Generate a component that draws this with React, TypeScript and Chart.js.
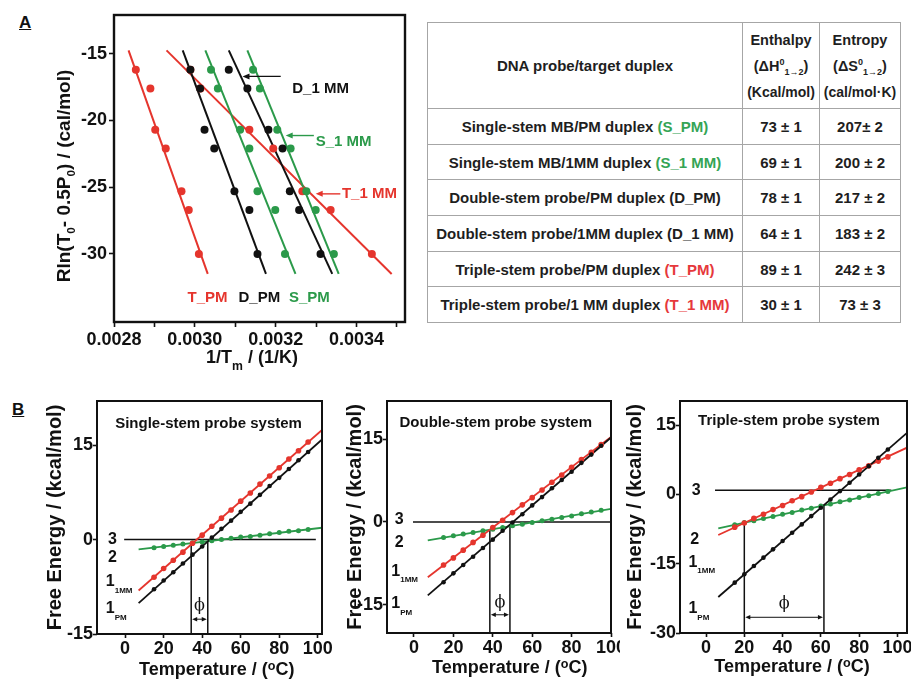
import React, { useEffect, useRef } from 'react';
import { Chart, registerables } from 'chart.js';
Chart.register(...registerables);

const RED = '#e5352d';
const GREEN = '#2b9a4a';
const BLACK = '#111111';
const FONT = '"Liberation Sans", Arial, Helvetica, sans-serif';

// ---------- Panel A data ----------
const rlnY = [-16.2, -17.6, -20.7, -22.1, -25.3, -26.7, -30.0];
const tpmX = [0.002854, 0.00289, 0.002902, 0.002928, 0.002967, 0.002985, 0.00301];
const t1mmX = [0.002989, 0.003014, 0.003135, 0.003194, 0.003266, 0.003336, 0.003438];
const dpmX = [0.002989, 0.003013, 0.003024, 0.003048, 0.003098, 0.003135, 0.003155];
const spmX = [0.00304, 0.003057, 0.003112, 0.003135, 0.003155, 0.003199, 0.003223];
const d1mmX = [0.003084, 0.00313, 0.003182, 0.003217, 0.003235, 0.003258, 0.003311];
const s1mmX = [0.003144, 0.003161, 0.003204, 0.003237, 0.003276, 0.003299, 0.003344];
const fitYA = [-14.75, -31.5];
const tpmFitX = [0.002836, 0.003032];
const t1mmFitX = [0.00293, 0.003487];
const dpmFitX = [0.00297, 0.003176];
const spmFitX = [0.003026, 0.003249];
const d1mmFitX = [0.003084, 0.00334];
const s1mmFitX = [0.00313, 0.003356];
const xTicksA = [0.0028, 0.0029, 0.003, 0.0031, 0.0032, 0.0033, 0.0034, 0.0035];
const xLabelsA = [0.0028, 0.003, 0.0032, 0.0034];
const yTicksA = [-30, -25, -20, -15];

// ---------- Table data ----------
const duplexNames = ['Single-stem MB/PM duplex', 'Single-stem MB/1MM duplex', 'Double-stem probe/PM duplex', 'Double-stem probe/1MM duplex', 'Triple-stem probe/PM duplex', 'Triple-stem probe/1 MM duplex'];
const duplexCodes = ['(S_PM)', '(S_1 MM)', '(D_PM)', '(D_1 MM)', '(T_PM)', '(T_1 MM)'];
const enthalpyVals = ['73 ± 1', '69 ± 1', '78 ± 1', '64 ± 1', '89 ± 1', '30 ± 1'];
const entropyVals = ['207± 2', '200 ± 2', '217 ± 2', '183 ± 2', '242 ± 3', '73 ± 3'];

// ---------- Panel B data ----------
const tempB = [15, 20, 25, 30, 35, 40, 45, 50, 55, 60, 65, 70, 75, 80, 85, 90, 95];
const singlePM = [-7.9, -6.5, -5.2, -3.8, -2.4, -1.1, 0.3, 1.7, 3.0, 4.4, 5.7, 7.1, 8.5, 9.8, 11.2, 12.6, 13.9];
const single1MM = [-6.0, -4.6, -3.3, -2.0, -0.6, 0.7, 2.1, 3.4, 4.7, 6.1, 7.4, 8.8, 10.1, 11.4, 12.8, 14.1, 15.5];
const singleS2 = [-1.3, -1.1, -0.9, -0.7, -0.5, -0.4, -0.2, 0.0, 0.2, 0.4, 0.5, 0.7, 0.9, 1.1, 1.3, 1.4, 1.6];
const doublePM = [-10.9, -9.3, -7.8, -6.3, -4.7, -3.2, -1.6, -0.1, 1.4, 3.0, 4.5, 6.1, 7.6, 9.1, 10.7, 12.2, 13.8];
const double1MM = [-7.8, -6.5, -5.1, -3.7, -2.4, -1.0, 0.3, 1.7, 3.1, 4.4, 5.8, 7.2, 8.5, 9.9, 11.3, 12.6, 14.0];
const doubleS2 = [-2.8, -2.5, -2.2, -1.9, -1.6, -1.3, -1.0, -0.7, -0.4, -0.1, 0.2, 0.5, 0.8, 1.1, 1.5, 1.8, 2.1];
const triplePM = [-19.1, -17.3, -15.5, -13.7, -11.9, -10.1, -8.3, -6.5, -4.7, -2.9, -1.1, 0.7, 2.5, 4.3, 6.1, 7.9, 9.7];
const triple1MM = [-7.1, -6.2, -5.2, -4.3, -3.3, -2.4, -1.4, -0.5, 0.5, 1.5, 2.4, 3.4, 4.3, 5.3, 6.2, 7.2, 8.1];
const tripleS2 = [-6.6, -6.1, -5.7, -5.2, -4.8, -4.3, -3.9, -3.4, -3.0, -2.5, -2.1, -1.6, -1.2, -0.7, -0.3, 0.2, 0.6];

const singleFitT = [7, 103];
const singlePMFit = [-10.1, 16.1];
const single1MMFit = [-8.1, 17.6];
const singleS2Fit = [-1.55, 1.9];
const doubleFitT = [7, 100];
const doublePMFit = [-13.3, 15.3];
const double1MMFit = [-10.0, 15.4];
const doubleS2Fit = [-3.33, 2.38];
const tripleFitT = [6.4, 105];
const triplePMFit = [-22.2, 13.3];
const triple1MMFit = [-8.8, 10.1];
const tripleS2Fit = [-7.35, 1.5];

const singleState3 = { t: [-0.5, 99], g: 0 };
const doubleState3 = { t: [-0.5, 100], g: 0 };
const tripleState3 = { t: [4.7, 96.8], g: 0.9 };
const singleCrossT = [34.3, 42.9];
const singleCrossG = [-0.6, -0.3];
const doubleCrossT = [38.5, 48.7];
const doubleCrossG = [-1.4, -0.8];
const tripleCrossT = [20, 61.6];
const tripleCrossG = [-6.1, -2.4];

const xTicksB = [0, 20, 40, 60, 80, 100];
const yTicksSingle = [-15, 0, 15];
const yTicksDouble = [-15, 0, 15];
const yTicksTriple = [-30, -15, 0, 15];

// ---------- helpers ----------
type Seg = { t: string; k?: number; dy?: number; fam?: string; bold?: boolean };
const fontStr = (size: number, fam = FONT, bold = true) => `${bold ? 'bold ' : ''}${size}px ${fam}`;

function drawRich(ctx: CanvasRenderingContext2D, segs: Seg[], x: number, y: number, size: number, color: string, align: 'left' | 'center' = 'left', rot = 0) {
  ctx.save();
  ctx.translate(x, y);
  if (rot) ctx.rotate(rot);
  let w = 0;
  for (const g of segs) {
    ctx.font = fontStr(size * (g.k ?? 1), g.fam, g.bold ?? true);
    w += ctx.measureText(g.t).width;
  }
  let cx = align === 'center' ? -w / 2 : 0;
  ctx.fillStyle = color;
  ctx.textBaseline = 'middle';
  ctx.textAlign = 'left';
  for (const g of segs) {
    ctx.font = fontStr(size * (g.k ?? 1), g.fam, g.bold ?? true);
    ctx.fillText(g.t, cx, (g.dy ?? 0) * size);
    cx += ctx.measureText(g.t).width;
  }
  ctx.restore();
}

function arrowHead(ctx: CanvasRenderingContext2D, x: number, y: number, dir: number, len: number, hw: number) {
  ctx.beginPath();
  ctx.moveTo(x, y);
  ctx.lineTo(x - dir * len, y - hw);
  ctx.lineTo(x - dir * len, y + hw);
  ctx.closePath();
  ctx.fill();
}

const pts = (xs: number[], ys: number[], color: string, r: number) => ({
  data: xs.map((x, i) => ({ x, y: ys[i] })),
  showLine: false,
  pointRadius: r,
  pointHoverRadius: r,
  pointBackgroundColor: color,
  pointBorderColor: color,
  pointBorderWidth: 0,
});
const seg = (xs: number[], ys: number[], color: string, w: number) => ({
  data: xs.map((x, i) => ({ x, y: ys[i] })),
  showLine: true,
  pointRadius: 0,
  pointHoverRadius: 0,
  borderColor: color,
  borderWidth: w,
  fill: false,
  tension: 0,
});

const tickFont = (size: number) => ({ family: FONT, size, weight: 'bold' as const });
const gridOpts = (len: number) => ({
  display: true,
  drawOnChartArea: false,
  drawTicks: true,
  tickLength: len,
  tickWidth: 1.6,
  tickColor: BLACK,
});

// ---------- Panel A config ----------
function configA(): any {
  const annot = [
    { text: 'D_1 MM', color: BLACK, x: 0.003241, y: -17.6 },
    { text: 'S_1 MM', color: GREEN, x: 0.003299, y: -21.6 },
    { text: 'T_1 MM', color: RED, x: 0.003364, y: -25.5 },
    { text: 'T_PM', color: RED, x: 0.002982, y: -33.26 },
    { text: 'D_PM', color: BLACK, x: 0.003108, y: -33.26 },
    { text: 'S_PM', color: GREEN, x: 0.003233, y: -33.26 },
  ];
  const arrows = [
    { x1: 0.0032125, x2: 0.003118, y: -16.7, color: BLACK },
    { x1: 0.0032945, x2: 0.0032248, y: -21.13, color: GREEN },
    { x1: 0.00336, x2: 0.003299, y: -25.5, color: RED },
  ];
  const decor = {
    id: 'decorA',
    afterDraw(chart: any) {
      const ctx: CanvasRenderingContext2D = chart.ctx;
      const xs = chart.scales.x, ys = chart.scales.y, a = chart.chartArea;
      ctx.save();
      ctx.strokeStyle = BLACK;
      ctx.lineWidth = 2.4;
      ctx.strokeRect(a.left, a.top, a.right - a.left, a.bottom - a.top);
      for (const ar of arrows) {
        const x1 = xs.getPixelForValue(ar.x1), x2 = xs.getPixelForValue(ar.x2), y = ys.getPixelForValue(ar.y);
        ctx.strokeStyle = ar.color; ctx.fillStyle = ar.color; ctx.lineWidth = 1.4;
        ctx.beginPath(); ctx.moveTo(x1, y); ctx.lineTo(x2 + 5, y); ctx.stroke();
        arrowHead(ctx, x2, y, -1, 7, 3);
      }
      for (const an of annot) {
        drawRich(ctx, [{ t: an.text }], xs.getPixelForValue(an.x), ys.getPixelForValue(an.y), 15, an.color, 'left');
      }
      drawRich(ctx, [{ t: '1/T' }, { t: 'm', k: 0.68, dy: 0.5 }, { t: ' / (1/K)' }], 222, 358, 18, BLACK, 'center');
      drawRich(ctx, [{ t: 'Rln(T' }, { t: '0', k: 0.62, dy: 0.38 }, { t: '- 0.5P' }, { t: '0', k: 0.62, dy: 0.38 }, { t: ') / (cal/mol)' }], 35, 176, 19, BLACK, 'center', -Math.PI / 2);
      ctx.restore();
    },
  };
  return {
    type: 'scatter',
    data: {
      datasets: [
        pts(dpmX, rlnY, BLACK, 4),
        pts(d1mmX, rlnY, BLACK, 4),
        pts(spmX, rlnY, GREEN, 4),
        pts(s1mmX, rlnY, GREEN, 4),
        pts(tpmX, rlnY, RED, 4),
        pts(t1mmX, rlnY, RED, 4),
        seg(dpmFitX, fitYA, BLACK, 2),
        seg(d1mmFitX, fitYA, BLACK, 2),
        seg(spmFitX, fitYA, GREEN, 2),
        seg(s1mmFitX, fitYA, GREEN, 2),
        seg(tpmFitX, fitYA, RED, 2),
        seg(t1mmFitX, fitYA, RED, 2),
      ],
    },
    options: {
      animation: false,
      responsive: false,
      devicePixelRatio: 1,
      layout: { padding: { top: 15, right: 15, left: 0, bottom: 0 } },
      plugins: { legend: { display: false }, tooltip: { enabled: false } },
      events: [],
      scales: {
        x: {
          type: 'linear',
          min: 0.0028,
          max: 0.00352,
          afterBuildTicks: (s: any) => { s.ticks = xTicksA.map((v) => ({ value: v })); },
          afterFit: (s: any) => { s.height = 58; s.paddingLeft = 0; s.paddingRight = 0; },
          ticks: {
            autoSkip: false,
            maxRotation: 0,
            minRotation: 0,
            padding: 2,
            color: BLACK,
            font: tickFont(18),
            callback: (v: number) => (xLabelsA.some((l) => Math.abs(l - v) < 1e-9) ? v.toFixed(4) : ''),
          },
          grid: gridOpts(5),
          border: { display: false },
        },
        y: {
          type: 'linear',
          min: -35.1,
          max: -12.1,
          afterBuildTicks: (s: any) => { s.ticks = yTicksA.map((v) => ({ value: v })); },
          afterFit: (s: any) => { s.width = 84; s.paddingTop = 0; s.paddingBottom = 0; },
          ticks: { autoSkip: false, padding: 2, color: BLACK, font: tickFont(18) },
          grid: gridOpts(5),
          border: { display: false },
        },
      },
    },
    plugins: [decor],
  };
}

// ---------- Panel B config ----------
type Lbl = { t: number; g: number; main: string; sub?: string };
interface BSpec {
  title: string; titleT: number; titleDy: number;
  xMin: number; xMax: number; yMin: number; yMax: number; yTicks: number[];
  pm: number[]; mm: number[]; s2: number[];
  fitT: number[]; pmFit: number[]; mmFit: number[]; s2Fit: number[];
  state3: { t: number[]; g: number };
  crossT: number[]; crossG: number[];
  phiG: number; phiTextG: number;
  labels: Lbl[];
  yAxisW: number; xAxisH: number; padTop: number; padRight: number;
  yTitleX: number; xTitleX: number; xTitleY: number;
  left: number; top: number; w: number; h: number;
}

const specsB: BSpec[] = [
  {
    title: 'Single-stem probe system', titleT: 43.3, titleDy: 23,
    xMin: -14.6, xMax: 102.2, yMin: -15, yMax: 22, yTicks: yTicksSingle,
    pm: singlePM, mm: single1MM, s2: singleS2,
    fitT: singleFitT, pmFit: singlePMFit, mmFit: single1MMFit, s2Fit: singleS2Fit,
    state3: singleState3, crossT: singleCrossT, crossG: singleCrossG,
    phiG: -12.65, phiTextG: -10.6,
    labels: [
      { t: -8.9, g: 0, main: '3' }, { t: -8.9, g: -2.8, main: '2' },
      { t: -10, g: -6.7, main: '1', sub: '1MM' }, { t: -10, g: -11, main: '1', sub: 'PM' },
    ],
    yAxisW: 67, xAxisH: 45, padTop: 11, padRight: 12,
    yTitleX: 25, xTitleX: 186.7, xTitleY: 280,
    left: 30, top: 390, w: 304, h: 289,
  },
  {
    title: 'Double-stem probe system', titleT: 41.5, titleDy: 22,
    xMin: -13.7, xMax: 100, yMin: -20.1, yMax: 21.9, yTicks: yTicksDouble,
    pm: doublePM, mm: double1MM, s2: doubleS2,
    fitT: doubleFitT, pmFit: doublePMFit, mmFit: double1MMFit, s2Fit: doubleS2Fit,
    state3: doubleState3, crossT: doubleCrossT, crossG: doubleCrossG,
    phiG: -16.8, phiTextG: -14.6,
    labels: [
      { t: -9.8, g: 0.5, main: '3' }, { t: -9.8, g: -3.8, main: '2' },
      { t: -11.5, g: -8.9, main: '1', sub: '1MM' }, { t: -11.5, g: -14.8, main: '1', sub: 'PM' },
    ],
    yAxisW: 53, xAxisH: 46, padTop: 11, padRight: 9,
    yTitleX: 21, xTitleX: 175.7, xTitleY: 278.3,
    left: 334, top: 390, w: 286, h: 289,
  },
  {
    title: 'Triple-stem probe system', titleT: 43.3, titleDy: 20,
    xMin: -13.6, xMax: 105, yMin: -30, yMax: 20.2, yTicks: yTicksTriple,
    pm: triplePM, mm: triple1MM, s2: tripleS2,
    fitT: tripleFitT, pmFit: triplePMFit, mmFit: triple1MMFit, s2Fit: tripleS2Fit,
    state3: tripleState3, crossT: tripleCrossT, crossG: tripleCrossG,
    phiG: -26.6, phiTextG: -23.7,
    labels: [
      { t: -7.5, g: 0.8, main: '3' }, { t: -8.3, g: -9.7, main: '2' },
      { t: -9.2, g: -14.7, main: '1', sub: '1MM' }, { t: -9.2, g: -24.8, main: '1', sub: 'PM' },
    ],
    yAxisW: 60, xAxisH: 46, padTop: 11, padRight: 4,
    yTitleX: 15, xTitleX: 172, xTitleY: 276.7,
    left: 620, top: 390, w: 291, h: 289,
  },
];

function configB(s: BSpec): any {
  const decor = {
    id: 'decorB',
    afterDraw(chart: any) {
      const ctx: CanvasRenderingContext2D = chart.ctx;
      const xs = chart.scales.x, ys = chart.scales.y, a = chart.chartArea;
      ctx.save();
      ctx.strokeStyle = BLACK;
      ctx.lineWidth = 2;
      ctx.strokeRect(a.left, a.top, a.right - a.left, a.bottom - a.top);
      drawRich(ctx, [{ t: s.title }], xs.getPixelForValue(s.titleT), a.top + s.titleDy, 15, BLACK, 'center');
      for (const l of s.labels) {
        const segs: Seg[] = [{ t: l.main }];
        if (l.sub) segs.push({ t: l.sub, k: 0.5, dy: 0.55 });
        drawRich(ctx, segs, xs.getPixelForValue(l.t), ys.getPixelForValue(l.g), 16, BLACK, 'left');
      }
      const x1 = xs.getPixelForValue(s.crossT[0]), x2 = xs.getPixelForValue(s.crossT[1]);
      const py = ys.getPixelForValue(s.phiG);
      ctx.strokeStyle = BLACK; ctx.fillStyle = BLACK; ctx.lineWidth = 1;
      ctx.beginPath(); ctx.moveTo(x1 + 4, py); ctx.lineTo(x2 - 4, py); ctx.stroke();
      arrowHead(ctx, x1 + 1, py, -1, 5, 2.2);
      arrowHead(ctx, x2 - 1, py, 1, 5, 2.2);
      drawRich(ctx, [{ t: 'ϕ', fam: '"DejaVu Serif", "Liberation Serif", serif', bold: false }], (x1 + x2) / 2, ys.getPixelForValue(s.phiTextG), 16, BLACK, 'center');
      drawRich(ctx, [{ t: 'Temperature / (' }, { t: 'o', k: 0.7, dy: -0.2 }, { t: 'C)' }], s.xTitleX, s.xTitleY, 18, BLACK, 'center');
      drawRich(ctx, [{ t: 'Free Energy / (kcal/mol)' }], s.yTitleX, (a.top + a.bottom) / 2, 20, BLACK, 'center', -Math.PI / 2);
      ctx.restore();
    },
  };
  return {
    type: 'scatter',
    data: {
      datasets: [
        pts(tempB, s.pm, BLACK, 2.3),
        pts(tempB, s.mm, RED, 2.8),
        pts(tempB, s.s2, GREEN, 2.5),
        seg(s.fitT, s.pmFit, BLACK, 1.8),
        seg(s.fitT, s.mmFit, RED, 1.8),
        seg(s.fitT, s.s2Fit, GREEN, 1.8),
        seg(s.state3.t, [s.state3.g, s.state3.g], BLACK, 1.5),
        seg([s.crossT[0], s.crossT[0]], [s.yMin, s.crossG[0]], BLACK, 1.5),
        seg([s.crossT[1], s.crossT[1]], [s.yMin, s.crossG[1]], BLACK, 1.5),
      ],
    },
    options: {
      animation: false,
      responsive: false,
      devicePixelRatio: 1,
      layout: { padding: { top: s.padTop, right: s.padRight, left: 0, bottom: 0 } },
      plugins: { legend: { display: false }, tooltip: { enabled: false } },
      events: [],
      scales: {
        x: {
          type: 'linear',
          min: s.xMin,
          max: s.xMax,
          afterBuildTicks: (sc: any) => { sc.ticks = xTicksB.map((v) => ({ value: v })); },
          afterFit: (sc: any) => { sc.height = s.xAxisH; sc.paddingLeft = 0; sc.paddingRight = 0; },
          ticks: { autoSkip: false, maxRotation: 0, minRotation: 0, padding: 0, color: BLACK, font: tickFont(18) },
          grid: gridOpts(4),
          border: { display: false },
        },
        y: {
          type: 'linear',
          min: s.yMin,
          max: s.yMax,
          afterBuildTicks: (sc: any) => { sc.ticks = s.yTicks.map((v) => ({ value: v })); },
          afterFit: (sc: any) => { sc.width = s.yAxisW; sc.paddingTop = 0; sc.paddingBottom = 0; },
          ticks: { autoSkip: false, padding: 0, color: BLACK, font: tickFont(18) },
          grid: gridOpts(4),
          border: { display: false },
        },
      },
    },
    plugins: [decor],
  };
}

const codeColor = (c: string) => (c.startsWith('(S') ? '#35a455' : c.startsWith('(T') ? '#e6383b' : '#1e1e1e');
const border = '1.5px solid #a6a6a6';

function DataTable() {
  const cell: React.CSSProperties = { border, padding: 0, textAlign: 'center', verticalAlign: 'middle' };
  const small: React.CSSProperties = { fontSize: 9, lineHeight: 0 };
  return (
    <table
      style={{
        position: 'absolute', left: 427, top: 22, width: 473, height: 300,
        borderCollapse: 'collapse', tableLayout: 'fixed',
        fontFamily: FONT, fontWeight: 'bold', color: '#1e1e1e', fontSize: 15,
      }}
    >
      <colgroup>
        <col style={{ width: 315 }} />
        <col style={{ width: 77 }} />
        <col style={{ width: 81 }} />
      </colgroup>
      <tbody>
        <tr style={{ height: 86 }}>
          <td style={cell}>DNA probe/target duplex</td>
          <td style={{ ...cell, lineHeight: '26px', fontSize: 14.5 }}>
            Enthalpy<br />
            (ΔH<sup style={small}>0</sup><sub style={small}>1→2</sub>)<br />
            <span style={{ fontSize: 14 }}>(Kcal/mol)</span>
          </td>
          <td style={{ ...cell, lineHeight: '26px', fontSize: 14.5 }}>
            Entropy<br />
            (ΔS<sup style={small}>0</sup><sub style={small}>1→2</sub>)<br />
            <span style={{ fontSize: 14 }}>(cal/mol·K)</span>
          </td>
        </tr>
        {duplexNames.map((n, i) => (
          <tr key={i} style={{ height: 35.7 }}>
            <td style={cell}>
              {n} <span style={{ color: codeColor(duplexCodes[i]) }}>{duplexCodes[i]}</span>
            </td>
            <td style={cell}>{enthalpyVals[i]}</td>
            <td style={cell}>{entropyVals[i]}</td>
          </tr>
        ))}
      </tbody>
    </table>
  );
}

export default function App() {
  const aRef = useRef<HTMLCanvasElement>(null);
  const b1 = useRef<HTMLCanvasElement>(null);
  const b2 = useRef<HTMLCanvasElement>(null);
  const b3 = useRef<HTMLCanvasElement>(null);
  const bRefs = [b1, b2, b3];

  useEffect(() => {
    const charts: Chart[] = [];
    if (aRef.current) charts.push(new Chart(aRef.current, configA()));
    specsB.forEach((s, i) => {
      const c = bRefs[i].current;
      if (c) charts.push(new Chart(c, configB(s)));
    });
    return () => charts.forEach((c) => c.destroy());
  }, []);

  const panelLbl: React.CSSProperties = {
    position: 'absolute', fontFamily: FONT, fontWeight: 'bold', fontSize: 17,
    textDecoration: 'underline', color: BLACK, lineHeight: '20px',
  };

  return (
    <div style={{ position: 'absolute', left: 0, top: 0, width: 911, height: 679, background: '#fff', overflow: 'hidden' }}>
      <div style={{ ...panelLbl, left: 19, top: 13 }}>A</div>
      <div style={{ ...panelLbl, left: 12, top: 400 }}>B</div>
      <canvas ref={aRef} width={390} height={380} style={{ position: 'absolute', left: 30, top: 0, width: 390, height: 380 }} />
      <DataTable />
      {specsB.map((s, i) => (
        <canvas key={i} ref={bRefs[i]} width={s.w} height={s.h} style={{ position: 'absolute', left: s.left, top: s.top, width: s.w, height: s.h }} />
      ))}
    </div>
  );
}
